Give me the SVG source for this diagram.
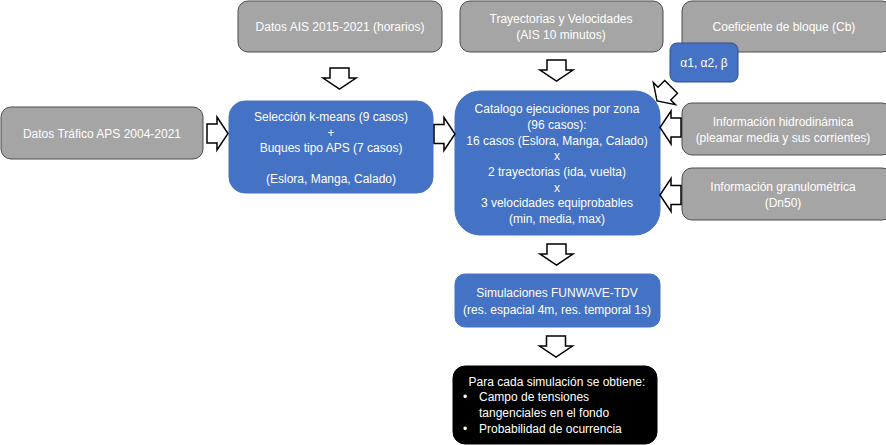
<svg xmlns="http://www.w3.org/2000/svg" xmlns:xlink="http://www.w3.org/1999/xlink" width="886" height="445" viewBox="0 0 886 445">
<style>
.gray{fill:#A5A5A5;stroke:#4D4D4D;stroke-width:1}
.blue{fill:#4472C4;stroke:#4472C4;stroke-width:1}
.blueb{fill:#4472C4;stroke:#2F4F8A;stroke-width:1}
.black{fill:#000;stroke:#000}
text{font-family:"Liberation Sans",Arial,sans-serif;font-size:12px;fill:#fff}
.c{text-anchor:middle}
.arr{fill:#fff;stroke:#000;stroke-width:1.5;stroke-linejoin:miter}
</style>
<defs>
<path id="da" d="M -9.5 -21 H 9.5 V -11 H 16.5 L 0 0 L -16.5 -11 H -9.5 Z"/>
</defs>
<rect width="886" height="445" fill="#fff"/>
<g id="ais"><rect class="gray" x="238" y="1" width="204" height="51" rx="10"/><text class="c" x="340" y="31">Datos AIS 2015-2021 (horarios)</text></g>
<g id="tray"><rect class="gray" x="460" y="1" width="203" height="51" rx="10"/><text class="c" x="561" y="23">Trayectorias y Velocidades</text><text class="c" x="561" y="39">(AIS 10 minutos)</text></g>
<g id="cb"><rect class="gray" x="682" y="1" width="210" height="51" rx="10"/><text class="c" x="784" y="31">Coeficiente de bloque (Cb)</text></g>
<g id="alpha"><rect class="blueb" x="670" y="43" width="68" height="39" rx="7"/><text class="c" x="704" y="67">α1, α2, β</text></g>
<g id="trafico"><rect class="gray" x="1" y="107" width="202" height="52" rx="10"/><text class="c" x="102" y="138">Datos Tráfico APS 2004-2021</text></g>
<g id="seleccion"><rect class="blue" x="229" y="101" width="204" height="92" rx="16"/>
<text class="c" x="331" y="121">Selección k-means (9 casos)</text>
<text class="c" x="331" y="137">+</text>
<text class="c" x="331" y="152">Buques tipo APS (7 casos)</text>
<text class="c" x="331" y="183">(Eslora, Manga, Calado)</text></g>
<g id="catalogo"><rect class="blue" x="455" y="91" width="205" height="144" rx="25"/>
<text class="c" x="557" y="113">Catalogo ejecuciones por zona</text>
<text class="c" x="557" y="129">(96 casos):</text>
<text class="c" x="557" y="145">16 casos (Eslora, Manga, Calado)</text>
<text class="c" x="557" y="160">x</text>
<text class="c" x="557" y="176">2 trayectorias (ida, vuelta)</text>
<text class="c" x="557" y="192">x</text>
<text class="c" x="557" y="207">3 velocidades equiprobables</text>
<text class="c" x="557" y="223">(min, media, max)</text></g>
<g id="hidro"><rect class="gray" x="682" y="103" width="210" height="52" rx="10"/><text class="c" x="783" y="126">Información hidrodinámica</text><text class="c" x="783" y="142">(pleamar media y sus corrientes)</text></g>
<g id="grano"><rect class="gray" x="682" y="168" width="210" height="52" rx="10"/><text class="c" x="783" y="191">Información granulométrica</text><text class="c" x="783" y="207">(Dn50)</text></g>
<g id="funwave"><rect class="blue" x="455" y="274" width="205" height="53" rx="10"/><text class="c" x="557" y="297">Simulaciones FUNWAVE-TDV</text><text class="c" x="557" y="314">(res. espacial 4m, res. temporal 1s)</text></g>
<g id="resultado"><rect class="black" x="453" y="366" width="204" height="78" rx="12"/>
<text class="c" x="557" y="386">Para cada simulación se obtiene:</text>
<text x="463" y="401">•</text><text x="479" y="401">Campo de tensiones</text>
<text x="479" y="417">tangenciales en el fondo</text>
<text x="463" y="433">•</text><text x="479" y="433">Probabilidad de ocurrencia</text></g>
<g id="connectors">
<use href="#da" class="arr" transform="translate(339.5,89)"/>
<use href="#da" class="arr" transform="translate(556.5,81)"/>
<use href="#da" class="arr" transform="translate(556.5,265)"/>
<use href="#da" class="arr" transform="translate(556,357)"/>
<use href="#da" class="arr" transform="translate(228,133.5) rotate(-90)"/>
<use href="#da" class="arr" transform="translate(455,134) rotate(-90)"/>
<use href="#da" class="arr" transform="translate(660,127.5) rotate(90)"/>
<use href="#da" class="arr" transform="translate(660,195) rotate(90)"/>
<use href="#da" class="arr" transform="translate(657,101) rotate(45) scale(0.95)"/>
</g>
</svg>
